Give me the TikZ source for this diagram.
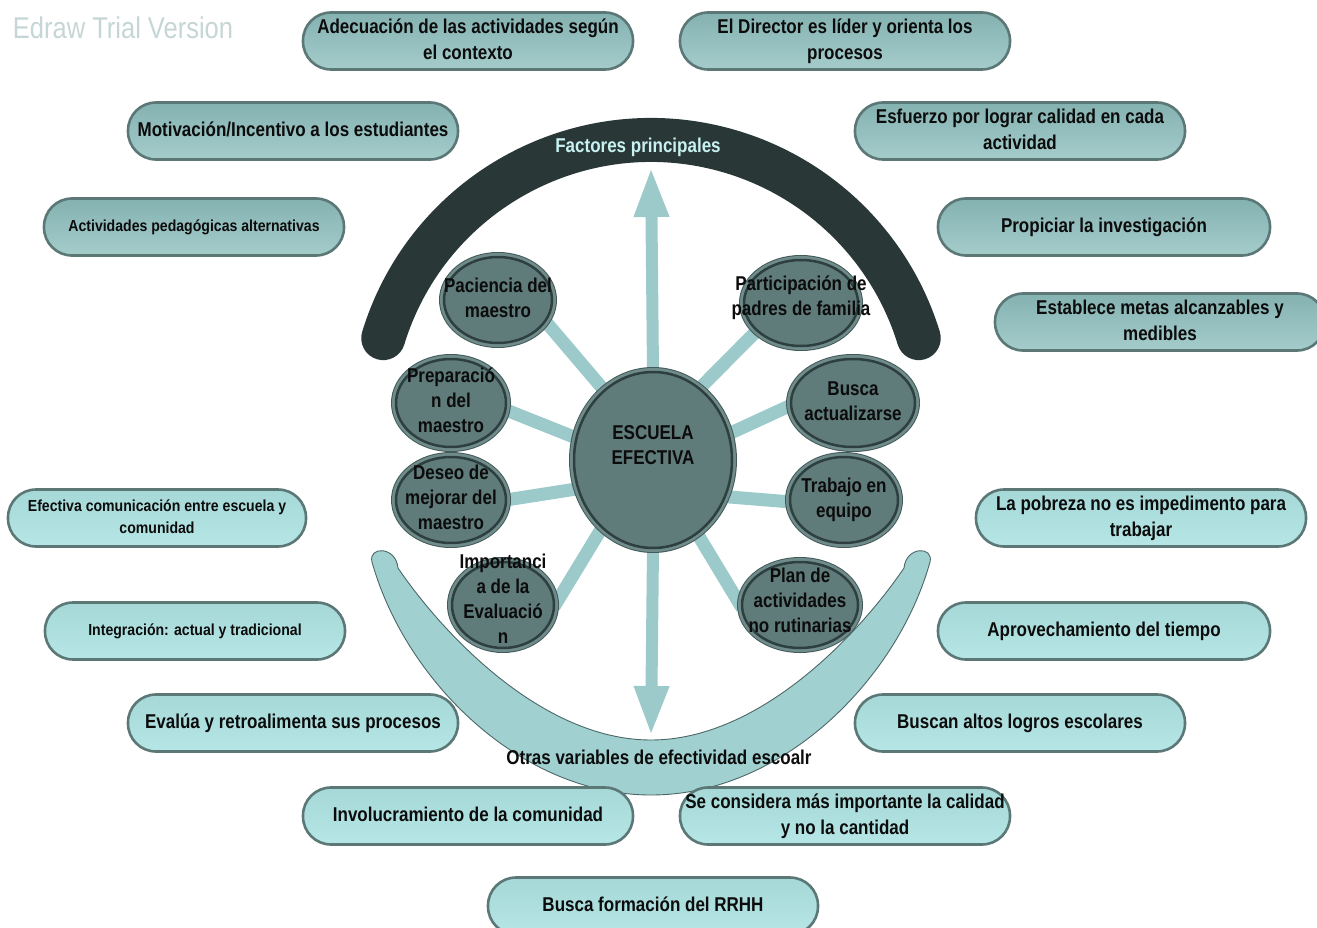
\documentclass[tikz,border=0pt]{standalone}
\usepackage{fontspec}
\setmainfont{Liberation Sans}[FakeStretch=0.85]
\newfontfamily\wfont{Liberation Sans}[FakeStretch=0.88]
\usetikzlibrary{shapes.geometric,arrows.meta}
\pgfdeclarelayer{bg}
\pgfsetlayers{bg,main}
\definecolor{pilltop}{HTML}{84B2B1}
\definecolor{pillbot}{HTML}{A4CCCB}
\definecolor{lighttop}{HTML}{A6D8D8}
\definecolor{lightbot}{HTML}{B6E6E6}
\definecolor{pillline}{HTML}{5B7877}
\definecolor{satfill}{HTML}{5F7B7A}
\definecolor{satband}{HTML}{6F8C8B}
\definecolor{satdark}{HTML}{2D3F3F}
\definecolor{satedge}{HTML}{43595A}
\definecolor{spokec}{HTML}{9CC9C9}
\definecolor{arcdark}{HTML}{2A3737}
\definecolor{crescent}{HTML}{A0D0D0}
\definecolor{crescentline}{HTML}{4D6767}
\definecolor{factc}{HTML}{C8F2F2}
\definecolor{wmark}{HTML}{C6D5D5}
\definecolor{txt}{HTML}{0C0C0C}
\newcommand\zbox[2][0pt]{\smash{\makebox[0pt][c]{\raisebox{#1}{\raisebox{-0.25em}{\begin{tabular}{@{}c@{}}#2\end{tabular}}}}}}
\begin{document}
\begin{tikzpicture}[x=1pt,y=-1pt,
  pill/.style={rectangle, rounded corners=28pt, minimum width=330pt, minimum height=57pt,
    inner sep=0pt, outer sep=0pt, draw=pillline, line width=2.6pt,
    top color=pilltop, bottom color=pillbot,
    font=\fontsize{20}{26}\selectfont\bfseries, text=txt},
  lpill/.style={pill, top color=lighttop, bottom color=lightbot},
  small/.style={font=\wfont\fontsize{16}{22}\selectfont\bfseries},
  sat/.style={ellipse, inner sep=0pt, outer sep=0pt, fill=satfill, draw=satdark, line width=2.5pt,
    preaction={draw=satedge, line width=10pt},
    preaction={draw=satband, line width=8pt},
    font=\fontsize{20}{25}\selectfont\bfseries, text=txt},
  spoke/.style={draw=spokec, line width=13pt},
  bigarrow/.style={draw=spokec, line width=12pt, -{Triangle[width=32pt,length=50pt]}},
  lbl/.style={inner sep=0pt, font=\fontsize{20}{25}\selectfont\bfseries, text=txt}
]
\useasboundingbox (0,0) rectangle (1317,928);

% watermark
\node[inner sep=0pt, text=wmark, font=\fontsize{30}{36}\selectfont] (wm) at (123,28) {Edraw Trial Version};

% pills (top group)
\node[pill] (p1) at (468,41) {\zbox{Adecuación de las actividades según\\el contexto}};
\node[pill] (p2) at (845,41) {\zbox{El Director es líder y orienta los\\procesos}};
\node[pill] (p3) at (293,131) {\zbox{Motivación/Incentivo a los estudiantes}};
\node[pill] (p4) at (1020,131) {\zbox{Esfuerzo por lograr calidad en cada\\actividad}};
\node[pill, minimum width=300pt, small] (p5) at (194,227) {\zbox{Actividades pedagógicas alternativas}};
\node[pill, minimum width=332pt] (p6) at (1104,227) {\zbox{Propiciar la investigación}};
\node[pill] (p7) at (1160,322) {\zbox{Establece metas alcanzables y\\medibles}};

% pills (light group)
\node[lpill, minimum width=298pt, small] (p8) at (157,518) {\zbox{Efectiva comunicación entre escuela y\\comunidad}};
\node[lpill] (p9) at (1141,518) {\zbox{La pobreza no es impedimento para\\trabajar}};
\node[lpill, minimum width=300pt, small] (p10) at (195,631) {\zbox{Integración: actual y tradicional}};
\node[lpill, minimum width=332pt] (p11) at (1104,631) {\zbox{Aprovechamiento del tiempo}};
\node[lpill] (p12) at (293,723) {\zbox{Evalúa y retroalimenta sus procesos}};
\node[lpill] (p13) at (1020,723) {\zbox{Buscan altos logros escolares}};
\node[lpill] (p14) at (468,816) {\zbox{Involucramiento de la comunidad}};
\node[lpill] (p15) at (845,816) {\zbox{Se considera más importante la calidad\\y no la cantidad}};
\node[lpill] (p16) at (653,906) {\zbox{Busca formación del RRHH}};

% centre and satellites
\node[sat, minimum width=158pt, minimum height=176pt] (C) at (653,460) {\zbox[13pt]{ESCUELA\\EFECTIVA}};
\node[sat, minimum width=108pt, minimum height=86pt] (s1) at (498,300) {\zbox{Paciencia del\\maestro}};
\node[sat, minimum width=114pt, minimum height=86pt] (s2) at (801,303) {\zbox[5pt]{Participación de\\padres de familia}};
\node[sat, minimum width=110pt, minimum height=88pt] (s3) at (451,403) {\zbox{Preparació\\n del\\maestro}};
\node[sat, minimum width=124pt, minimum height=88pt] (s4) at (853,403) {\zbox{Busca\\actualizarse}};
\node[sat, minimum width=110pt, minimum height=86pt] (s5) at (451,500) {\zbox{Deseo de\\mejorar del\\maestro}};
\node[sat, minimum width=108pt, minimum height=86pt] (s6) at (844,500) {\zbox{Trabajo en\\equipo}};
\node[sat, minimum width=102pt, minimum height=86pt] (s7) at (503,605) {\zbox[4pt]{Importanci\\a de la\\Evaluació\\n}};
\node[sat, minimum width=116pt, minimum height=86pt] (s8) at (800,605) {\zbox[2.5pt]{Plan de\\actividades\\no rutinarias}};

\coordinate (ftip) at (651,167);
\coordinate (otip) at (651,736);

\node[lbl, text=factc] (fp) at (638,147) {Factores principales};
\node[lbl] (ov) at (659,757) {Otras variables de efectividad escoalr};

\begin{pgfonlayer}{bg}
  % lower crescent
  \path[fill=crescent, draw=crescentline, line width=0.9pt]
    (372,562) .. controls (405,680) and (520,795) .. (651,795)
    .. controls (782,795) and (897,680) .. (930,562)
    .. controls (934,546) and (906,546) .. (904,568)
    .. controls (862,630) and (762,740) .. (651,740)
    .. controls (540,740) and (440,630) .. (398,568)
    .. controls (396,546) and (368,546) .. (372,562) -- cycle;
  % upper dark arc
  \draw[arcdark, line width=44pt, line cap=round]
    ([shift={(197:280)}]651,420) arc[start angle=197, end angle=343, radius=280];
  % spokes
  \draw[spoke] (C.125) -- (s1.-24);
  \draw[spoke] (C.57) -- (s2.212);
  \draw[spoke] (C.164) -- (s3.-7);
  \draw[spoke] (C.19) -- (s4.182);
  \draw[spoke] (C.201) -- (s5.0);
  \draw[spoke] (C.-27) -- (s6.182);
  \draw[spoke] (C.233) -- (s7.-2);
  \draw[spoke] (C.-59) -- (s8.183);
  % arrows
  \draw[bigarrow] (C.north) -- (ftip);
  \draw[bigarrow] (C.south) -- (otip);
\end{pgfonlayer}
\end{tikzpicture}
\end{document}
